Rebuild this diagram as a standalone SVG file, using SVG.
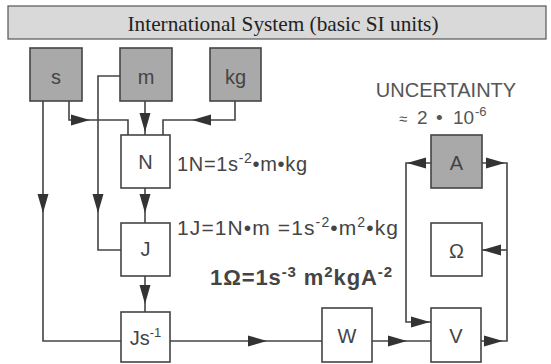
<svg xmlns="http://www.w3.org/2000/svg" width="551" height="364" viewBox="0 0 551 364">
<style>
.box{fill:#ffffff;stroke:#444;stroke-width:1.6}
.g{fill:#a9a9a9}
.lbl{font-family:"Liberation Sans",Arial,sans-serif;font-size:20px;fill:#444;text-anchor:middle}
.eq{font-family:"Liberation Sans",Arial,sans-serif;font-size:20px;fill:#444}
.con{fill:none;stroke:#444;stroke-width:1.6}
.ah{fill:#333}
</style>
<defs>
<polygon id="ah" points="0,0 -19,-5.5 -19,5.5"/>
</defs>
<rect x="0" y="0" width="551" height="364" fill="#ffffff"/>
<g id="title">
<rect x="8" y="6" width="538" height="33" fill="#d9d9d9" stroke="#555" stroke-width="1.2"/>
<text x="283" y="31" style="font-family:'Liberation Serif','Times New Roman',serif;font-size:21px;fill:#222" text-anchor="middle" textLength="311" lengthAdjust="spacingAndGlyphs">International System (basic SI units)</text>
</g>
<g id="connectors">
<path class="con" d="M69,101 V120 H128 V135"/>
<path class="con" d="M145,101 V135"/>
<path class="con" d="M235,101 V120 H163 V135"/>
<path class="con" d="M120,76 H98 V250 H121"/>
<path class="con" d="M43,101 V341 H121"/>
<path class="con" d="M145,188 V223"/>
<path class="con" d="M145,276 V312"/>
<path class="con" d="M170,341 H322"/>
<path class="con" d="M372,341 H431"/>
<path class="con" d="M431,163 H406 V322 H431"/>
<path class="con" d="M482,163 H507 V341 H481"/>
<path class="con" d="M507,250 H482"/>
<g class="ah">
<use href="#ah" transform="translate(90,120)"/>
<use href="#ah" transform="translate(145,132) rotate(90)"/>
<use href="#ah" transform="translate(192,120) rotate(180)"/>
<use href="#ah" transform="translate(43,213) rotate(90)"/>
<use href="#ah" transform="translate(98,213) rotate(90)"/>
<use href="#ah" transform="translate(145,213) rotate(90)"/>
<use href="#ah" transform="translate(145,304) rotate(90)"/>
<use href="#ah" transform="translate(267,341)"/>
<use href="#ah" transform="translate(407,341)"/>
<use href="#ah" transform="translate(407,163) rotate(180)"/>
<use href="#ah" transform="translate(430,322)"/>
<use href="#ah" transform="translate(505,163)"/>
<use href="#ah" transform="translate(503,341)"/>
<use href="#ah" transform="translate(482,250) rotate(180)"/>
</g>
</g>
<g id="s"><rect class="box g" x="30" y="48" width="52" height="53"/><text class="lbl" x="56" y="84">s</text></g>
<g id="m"><rect class="box g" x="120" y="48" width="52" height="53"/><text class="lbl" x="146" y="84">m</text></g>
<g id="kg"><rect class="box g" x="210" y="48" width="51" height="53"/><text class="lbl" x="235.5" y="84">kg</text></g>
<g id="N"><rect class="box" x="121" y="135" width="49" height="53"/><text class="lbl" x="145.5" y="169">N</text></g>
<g id="J"><rect class="box" x="121" y="223" width="49" height="53"/><text class="lbl" x="145.5" y="256">J</text></g>
<g id="Js"><rect class="box" x="121" y="312" width="49" height="50"/><text class="lbl" x="145.5" y="345">Js<tspan font-size="13" dy="-8">-1</tspan></text></g>
<g id="W"><rect class="box" x="322" y="308" width="50" height="54"/><text class="lbl" x="347" y="343">W</text></g>
<g id="V"><rect class="box" x="431" y="308" width="50" height="54"/><text class="lbl" x="456" y="343">V</text></g>
<g id="A"><rect class="box g" x="431" y="135" width="51" height="53"/><text class="lbl" x="456.5" y="170">A</text></g>
<g id="Omega"><rect class="box" x="431" y="223" width="51" height="53"/><text class="lbl" x="456.5" y="258">Ω</text></g>
<g id="labels">
<text class="eq" x="177" y="171" textLength="130" lengthAdjust="spacing">1N=1s<tspan font-size="14" dy="-8">-2</tspan><tspan dy="8">•m•kg</tspan></text>
<text class="eq" x="177" y="235" style="font-size:21px" textLength="221" lengthAdjust="spacing">1J=1N•m =1s<tspan font-size="14" dy="-8">-2</tspan><tspan dy="8">•m</tspan><tspan font-size="14" dy="-8">2</tspan><tspan dy="8">•kg</tspan></text>
<text class="eq" x="210" y="285" style="font-weight:bold;font-size:22px" textLength="182" lengthAdjust="spacing">1Ω=1s<tspan font-size="15" dy="-8">-3</tspan><tspan dy="8"> m</tspan><tspan font-size="15" dy="-8">2</tspan><tspan dy="8">kgA</tspan><tspan font-size="15" dy="-8">-2</tspan></text>
<text x="446" y="97" style="font-family:'Liberation Sans',Arial,sans-serif;font-size:20px;fill:#555" text-anchor="middle">UNCERTAINTY</text>
<text y="124" style="font-family:'Liberation Sans',Arial,sans-serif;font-size:19px;fill:#555"><tspan x="399" font-size="15">≈</tspan><tspan x="417">2</tspan><tspan x="436">•</tspan><tspan x="453">10</tspan><tspan x="475" dy="-8" font-size="13">-6</tspan></text>
</g>
</svg>
